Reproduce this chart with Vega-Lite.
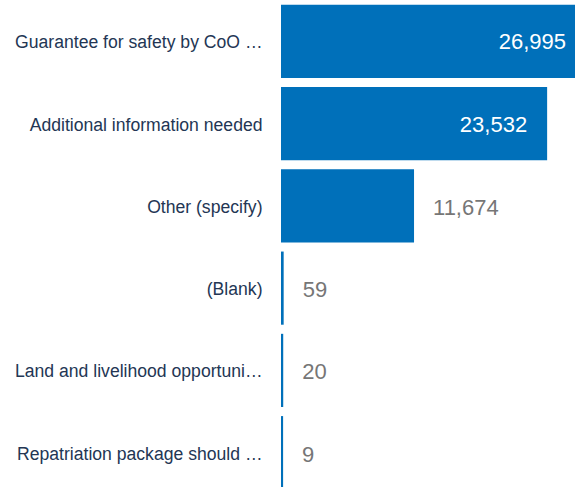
{
  "$schema": "https://vega.github.io/schema/vega-lite/v6.json",
  "autosize": "none",
  "width": 303,
  "height": 494,
  "padding": {"left": 282, "top": 0, "right": 0, "bottom": 0},
  "background": "white",
  "config": {"view": {"stroke": null}, "font": "Liberation Sans"},
  "data": {"values": [
    {"label": "Guarantee for safety by CoO …", "value": 26995},
    {"label": "Additional information needed", "value": 23532},
    {"label": "Other (specify)", "value": 11674},
    {"label": "(Blank)", "value": 59},
    {"label": "Land and livelihood opportuni…", "value": 20},
    {"label": "Repatriation package should …", "value": 9}
  ]},
  "encoding": {
    "y": {"field": "label", "type": "nominal", "sort": null,
      "scale": {"paddingInner": 0.135, "paddingOuter": 0.07},
      "axis": {"title": null, "domain": false, "ticks": false, "grid": false,
        "labelPadding": 20, "labelOffset": 2, "labelFontSize": 17.6, "labelColor": "#233654", "labelFont": "Liberation Sans", "labelLimit": 300}},
    "x": {"field": "value", "type": "quantitative", "scale": {"domain": [0, 26995], "nice": false}, "axis": null}
  },
  "layer": [
    {"mark": {"type": "bar", "color": "#0070BA", "stroke": "#0070BA", "strokeWidth": 2}},
    {"transform": [{"filter": "datum.value > 20000"}],
     "mark": {"type": "text", "align": "right", "dx": -19, "dy": 1, "fontSize": 22, "color": "white", "baseline": "middle"},
     "encoding": {"text": {"field": "value", "type": "quantitative", "format": ","}}},
    {"transform": [{"filter": "datum.value <= 20000"}],
     "mark": {"type": "text", "align": "left", "dx": 20, "dy": 2, "fontSize": 22, "color": "#767676", "baseline": "middle"},
     "encoding": {"text": {"field": "value", "type": "quantitative", "format": ","}}}
  ]
}
